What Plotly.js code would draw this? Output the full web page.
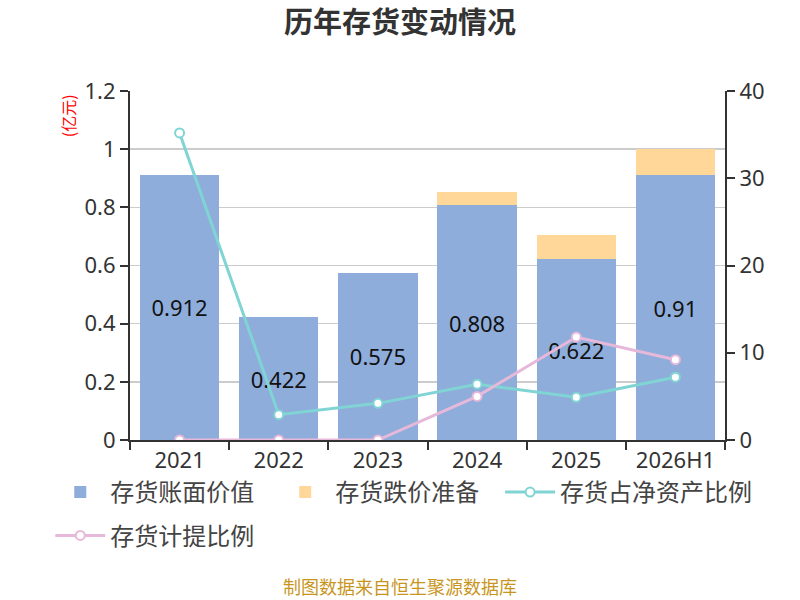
<!DOCTYPE html>
<html>
<head>
<meta charset="utf-8">
<script src="https://cdn.plot.ly/plotly-3.0.1.min.js"></script>
<style>
  html, body { margin: 0; padding: 0; background: #fff; }
  #chart { width: 800px; height: 600px; }
</style>
</head>
<body>
<div id="chart"></div>
<script>
// 年份
var years = ['2021', '2022', '2023', '2024', '2025', '2026H1'];
// 存货账面价值 (亿元)
var bookValue = [0.912, 0.422, 0.575, 0.808, 0.622, 0.91];
// 存货跌价准备 (亿元)
var reserve = [0, 0, 0, 0.045, 0.083, 0.09];
// 存货占净资产比例 (%)
var shareOfNetAssets = [35.2, 2.9, 4.2, 6.4, 4.9, 7.2];
// 存货计提比例 (%)
var provisionRatio = [0, 0, 0, 5.0, 11.8, 9.2];

var cjk = '"Noto Sans CJK SC", "Noto Sans", sans-serif';
var num = '"Noto Sans", "Noto Sans CJK SC", sans-serif';

var book = {
    x: years,
    y: bookValue,
    name: '存货账面价值',
    type: 'bar',
    legend: 'legend',
    marker: {color: '#8eaddb'},
    text: bookValue.map(String),
    textposition: 'inside',
    insidetextanchor: 'middle',
    textfont: {size: 22, color: '#111', family: num},
    hoverinfo: 'skip'
};

var res = {
    x: years,
    y: reserve,
    name: '存货跌价准备',
    type: 'bar',
    legend: 'legend2',
    marker: {color: '#ffd899'},
    hoverinfo: 'skip'
};

var share = {
    x: years,
    y: shareOfNetAssets,
    name: '存货占净资产比例',
    type: 'scatter',
    mode: 'lines+markers',
    yaxis: 'y2',
    legend: 'legend3',
    line: {color: '#80d4d4', width: 3},
    marker: {color: '#fff', size: 9, line: {color: '#80d4d4', width: 2}},
    hoverinfo: 'skip'
};

var prov = {
    x: years,
    y: provisionRatio,
    name: '存货计提比例',
    type: 'scatter',
    mode: 'lines+markers',
    yaxis: 'y2',
    legend: 'legend4',
    line: {color: '#e6b8da', width: 3},
    marker: {color: '#fff', size: 9, line: {color: '#e6b8da', width: 2}},
    hoverinfo: 'skip'
};

var data = [book, res, share, prov];

var axisStyle = {
    showline: true,
    linecolor: '#333',
    linewidth: 2,
    ticks: 'outside',
    ticklen: 8,
    tickwidth: 2,
    tickcolor: '#333',
    tickfont: {size: 22, color: '#333', family: num},
    fixedrange: true
};

var legendStyle = {
    orientation: 'h',
    xanchor: 'left',
    yanchor: 'top',
    font: {size: 24, color: '#444', family: cjk},
    itemwidth: 50,
    traceorder: 'normal',
    tracegroupgap: 0
};

var layout = {
    width: 800,
    height: 600,
    margin: {l: 130, r: 75, t: 91, b: 160},
    paper_bgcolor: '#fff',
    plot_bgcolor: '#fff',
    font: {family: cjk, color: '#333', size: 20},
    title: {
        text: '<b>历年存货变动情况</b>',
        x: 0.5,
        xanchor: 'center',
        y: 0.962,
        yanchor: 'middle',
        font: {size: 29, color: '#333', family: cjk}
    },
    barmode: 'stack',
    bargap: 0.2,
    showlegend: true,
    legend: Object.assign({}, legendStyle, {x: -0.134, y: -0.086}),
    legend2: Object.assign({}, legendStyle, {x: 0.244, y: -0.086}),
    legend3: Object.assign({}, legendStyle, {x: 0.622, y: -0.086}),
    legend4: Object.assign({}, legendStyle, {x: -0.134, y: -0.21}),
    xaxis: Object.assign({}, axisStyle, {
        type: 'category',
        tickson: 'boundaries',
        showgrid: false
    }),
    yaxis: Object.assign({}, axisStyle, {
        range: [0, 1.2],
        dtick: 0.2,
        gridcolor: '#cccccc',
        gridwidth: 1.5,
        zeroline: false
    }),
    yaxis2: Object.assign({}, axisStyle, {
        range: [0, 40],
        dtick: 10,
        overlaying: 'y',
        side: 'right',
        showgrid: false,
        zeroline: false
    }),
    annotations: [
        {
            text: '(亿元)',
            xref: 'paper', yref: 'paper',
            x: -0.103, y: 0.93,
            xanchor: 'center', yanchor: 'middle',
            textangle: -90,
            showarrow: false,
            font: {size: 16, color: '#ff0000', family: cjk}
        },
        {
            text: '(%)',
            xref: 'paper', yref: 'paper',
            x: 1.118, y: 0.975,
            xanchor: 'left', yanchor: 'middle',
            textangle: -90,
            showarrow: false,
            font: {size: 16, color: '#ff0000', family: cjk}
        },
        {
            text: '制图数据来自恒生聚源数据库',
            xref: 'paper', yref: 'paper',
            x: 0.5 - (130 - 75) / 2 / 595, y: -0.418,
            xanchor: 'center', yanchor: 'middle',
            showarrow: false,
            font: {size: 18, color: '#c8961e', family: cjk}
        }
    ]
};

Plotly.newPlot('chart', data, layout, {displayModeBar: false, staticPlot: true});
</script>
</body>
</html>
